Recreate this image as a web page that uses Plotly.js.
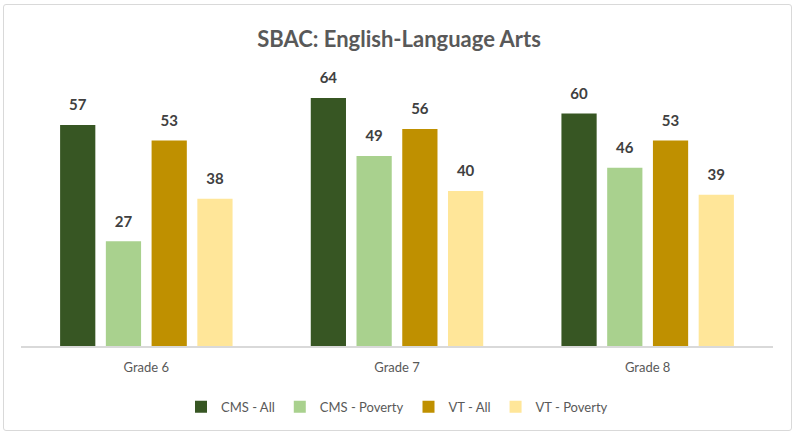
<!DOCTYPE html>
<html>
<head>
<meta charset="utf-8">
<script src="https://cdn.plot.ly/plotly-3.0.1.min.js"></script>
<style>
  html, body { margin: 0; padding: 0; background: #fff; }
  #wrap { position: relative; width: 798px; height: 435px; }
  #chart { width: 798px; height: 435px; }
  #frame { position: absolute; left: 3px; top: 4px; width: 789px; height: 427px;
           border: 1.5px solid #d9d9d9; border-radius: 3px; pointer-events: none; box-sizing: border-box; }
</style>
</head>
<body>
<div id="wrap"><div id="chart"></div><div id="frame"></div></div>
<script>
const categories = ["Grade 6", "Grade 7", "Grade 8"];
const seriesNames = ["CMS - All", "CMS - Poverty", "VT - All", "VT - Poverty"];
const cmsAll = [57, 64, 60];
const cmsPoverty = [27, 49, 46];
const vtAll = [53, 56, 53];
const vtPoverty = [38, 40, 39];
const seriesValues = [cmsAll, cmsPoverty, vtAll, vtPoverty];
const colors = ["#375623", "#a9d18e", "#bf9000", "#ffe699"];
const FONT = "Lato, 'Open Sans', sans-serif";

const bars = seriesValues.map((vals, i) => ({
  type: "bar",
  name: seriesNames[i],
  x: categories,
  y: vals,
  marker: { color: colors[i] },
  offsetgroup: "g" + i,
  hoverinfo: "none"
}));

const labels = seriesValues.map((vals, i) => ({
  type: "scatter",
  mode: "markers+text",
  x: categories,
  y: vals,
  text: vals.map(v => String(v)),
  textposition: "top center",
  textfont: { family: FONT, size: 15, color: "#404040", weight: "bold" },
  marker: { size: 16, opacity: 0 },
  offsetgroup: "g" + i,
  showlegend: false,
  cliponaxis: false,
  hoverinfo: "none"
}));

const layout = {
  width: 798, height: 435,
  margin: { l: 21, r: 25, t: 70, b: 89 },
  paper_bgcolor: "#ffffff",
  plot_bgcolor: "#ffffff",
  title: {
    text: "<b>SBAC: English-Language Arts</b>",
    font: { family: FONT, size: 22, color: "#595959" },
    x: 0.5, xanchor: "center", y: 0.91, yanchor: "middle"
  },
  barmode: "group",
  bargap: 0.27,
  bargroupgap: 0.23,
  scattermode: "group",
  scattergap: 0.27,
  xaxis: {
    type: "category",
    showline: true, linecolor: "#d9d9d9", linewidth: 1.5,
    ticks: "", showgrid: false, zeroline: false,
    ticklabelstandoff: 9,
    tickfont: { family: FONT, size: 13, color: "#595959" }
  },
  yaxis: {
    range: [0, 71.2], visible: false, showgrid: false, zeroline: false
  },
  showlegend: true,
  legend: {
    orientation: "h", x: 0.5, xanchor: "center", y: -0.22, yanchor: "middle",
    font: { family: FONT, size: 13, color: "#595959" },
    traceorder: "normal"
  }
};

Plotly.newPlot("chart", bars.concat(labels), layout, { displayModeBar: false, staticPlot: true });
</script>
</body>
</html>
